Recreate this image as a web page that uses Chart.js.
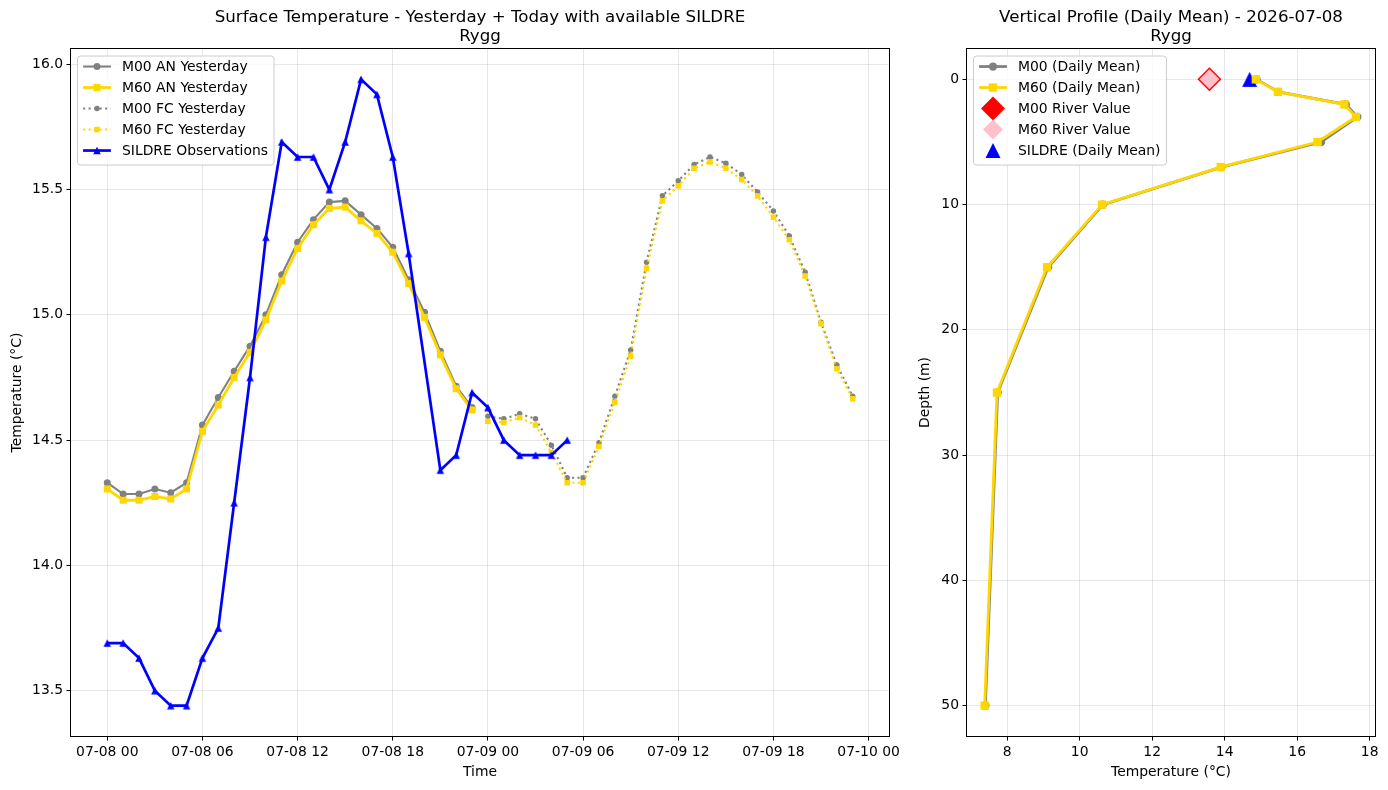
<!DOCTYPE html>
<html>
<head>
<meta charset="utf-8">
<script src="https://cdn.jsdelivr.net/npm/chart.js@4.4.0/dist/chart.umd.min.js"></script>
<style>
html,body{margin:0;padding:0;background:#fff;}
#wrap{position:relative;width:1388px;height:790px;overflow:hidden;}
#c1{position:absolute;left:0;top:0;}
#c2{position:absolute;left:905px;top:0;}
</style>
</head>
<body>
<div id="wrap">
<canvas id="c1" width="905" height="790"></canvas>
<canvas id="c2" width="483" height="790"></canvas>
</div>
<script>
// ---------------- DATA ----------------
const anHours = [0,1,2,3,4,5,6,7,8,9,10,11,12,13,14,15,16,17,18,19,20,21,22,23];
const m00An = [14.33,14.285,14.285,14.305,14.29,14.33,14.56,14.67,14.775,14.875,15.00,15.16,15.29,15.38,15.45,15.455,15.40,15.345,15.27,15.14,15.01,14.855,14.715,14.63];
const m60An = [14.305,14.26,14.26,14.275,14.265,14.305,14.535,14.64,14.75,14.85,14.98,15.135,15.265,15.36,15.425,15.43,15.375,15.325,15.25,15.125,14.99,14.84,14.705,14.62];
const fcHours = [24,25,26,27,28,29,30,31,32,33,34,35,36,37,38,39,40,41,42,43,44,45,46,47];
const m00Fc = [14.595,14.585,14.605,14.585,14.48,14.35,14.35,14.49,14.675,14.86,15.21,15.475,15.535,15.60,15.63,15.605,15.56,15.49,15.415,15.315,15.17,14.97,14.80,14.675];
const m60Fc = [14.575,14.57,14.59,14.56,14.45,14.33,14.33,14.475,14.65,14.835,15.185,15.455,15.515,15.585,15.61,15.585,15.54,15.475,15.39,15.30,15.155,14.965,14.785,14.665];
const obsHours = [0,1,2,3,4,5,6,7,8,9,10,11,12,13,14,15,16,17,18,19,21,22,23,24,25,26,27,28,29];
const sildreObs = [13.69,13.69,13.63,13.50,13.44,13.44,13.63,13.75,14.25,14.75,15.31,15.69,15.63,15.63,15.50,15.69,15.94,15.88,15.63,15.245,14.38,14.44,14.69,14.63,14.50,14.44,14.44,14.44,14.50];

const leftXTickValues = [0,6,12,18,24,30,36,42,48];
const leftXTickLabels = ["07-08 00","07-08 06","07-08 12","07-08 18","07-09 00","07-09 06","07-09 12","07-09 18","07-10 00"];
const leftYTickValues = [13.5,14.0,14.5,15.0,15.5,16.0];
const leftYTickLabels = ["13.5","14.0","14.5","15.0","15.5","16.0"];

const depths = [0,1,2,3,5,7,10,15,25,50];
const m00Profile = [14.88,15.48,17.34,17.66,16.66,13.91,10.64,9.13,7.74,7.40];
const m60Profile = [14.86,15.47,17.30,17.62,16.56,13.89,10.62,9.10,7.72,7.38];
const m00River = [13.58];
const m60River = [13.58];
const sildreMean = [14.69];
const surfaceDepth = [0];

const rightXTickValues = [8,10,12,14,16,18];
const rightXTickLabels = ["8","10","12","14","16","18"];
const rightYTickValues = [0,10,20,30,40,50];
const rightYTickLabels = ["0","10","20","30","40","50"];

// ---------------- HELPERS ----------------
const FONT = '"DejaVu Sans", "Liberation Sans", sans-serif';
Chart.defaults.font.family = FONT;
Chart.defaults.color = '#000';

function pts(xs, ys){ return xs.map((x,i)=>({x:x, y:ys[i]})); }

function makeTriangle(size, color){
  const s = Math.ceil(size) + 2;
  const c = document.createElement('canvas');
  c.width = s; c.height = s;
  const g = c.getContext('2d');
  const cx = s/2, cy = s/2, h = size/2;
  g.beginPath();
  g.moveTo(cx, cy-h); g.lineTo(cx+h, cy+h); g.lineTo(cx-h, cy+h); g.closePath();
  g.fillStyle = color; g.fill();
  return c;
}

function drawMarker(ctx, m, x, y){
  const h = m.size/2;
  ctx.save();
  ctx.fillStyle = m.color;
  ctx.beginPath();
  if (m.shape === 'circle') ctx.arc(x, y, h, 0, Math.PI*2);
  else if (m.shape === 'square') ctx.rect(x-h, y-h, m.size, m.size);
  else if (m.shape === 'triangle') { ctx.moveTo(x, y-h); ctx.lineTo(x+h, y+h); ctx.lineTo(x-h, y+h); ctx.closePath(); }
  else if (m.shape === 'diamond') { ctx.moveTo(x, y-h); ctx.lineTo(x+h, y); ctx.lineTo(x, y+h); ctx.lineTo(x-h, y); ctx.closePath(); }
  ctx.fill();
  ctx.restore();
}

const mplPlugin = {
  id: 'mpl',
  afterDraw(chart, args, opts){
    const ctx = chart.ctx, a = chart.chartArea;
    ctx.save();
    ctx.strokeStyle = '#000'; ctx.lineWidth = 1;
    ctx.strokeRect(Math.round(a.left)+0.5, Math.round(a.top)+0.5, Math.round(a.right-a.left)-1, Math.round(a.bottom-a.top)-1);
    ctx.restore();
    const items = opts.items;
    if (!items) return;
    ctx.save();
    ctx.font = '13.9px ' + FONT;
    let maxW = 0;
    items.forEach(it => { maxW = Math.max(maxW, ctx.measureText(it.label).width); });
    const bx = a.left + 7.5, by = a.top + 8, bw = 44.5 + maxW + 6, bh = 109, r = 3;
    ctx.beginPath();
    ctx.moveTo(bx+r, by); ctx.lineTo(bx+bw-r, by); ctx.arcTo(bx+bw, by, bx+bw, by+r, r);
    ctx.lineTo(bx+bw, by+bh-r); ctx.arcTo(bx+bw, by+bh, bx+bw-r, by+bh, r);
    ctx.lineTo(bx+r, by+bh); ctx.arcTo(bx, by+bh, bx, by+bh-r, r);
    ctx.lineTo(bx, by+r); ctx.arcTo(bx, by, bx+r, by, r); ctx.closePath();
    ctx.fillStyle = 'rgba(255,255,255,0.8)'; ctx.fill();
    ctx.strokeStyle = '#cccccc'; ctx.lineWidth = 1; ctx.stroke();
    items.forEach((it, i) => {
      const cy = by + 10.5 + i*21;
      if (it.line) {
        ctx.save();
        ctx.beginPath(); ctx.moveTo(bx+5.6, cy); ctx.lineTo(bx+33.4, cy);
        ctx.strokeStyle = it.color; ctx.lineWidth = it.lw; ctx.setLineDash(it.dash || []);
        ctx.stroke();
        ctx.restore();
      }
      drawMarker(ctx, it.marker, bx+19.5, cy);
      ctx.fillStyle = '#000'; ctx.textBaseline = 'middle'; ctx.textAlign = 'left';
      ctx.fillText(it.label, bx+44.5, cy+0.5);
    });
    ctx.restore();
  }
};

const GRID = {color:'rgba(176,176,176,0.3)', lineWidth:1, tickColor:'#000', tickLength:3.5, tickWidth:1};
const TICKFONT = {size:13.9};

function xAxis(min, max, vals, labels, title){
  return {
    type:'linear', min:min, max:max,
    afterBuildTicks: s => { s.ticks = vals.map(v => ({value:v})); },
    afterFit: s => { s.height = 53; s.paddingLeft = 0; s.paddingRight = 0; },
    ticks:{autoSkip:false, maxRotation:0, minRotation:0, padding:3.5, font:TICKFONT, color:'#000', callback:(v,i)=>labels[i]},
    grid:GRID, border:{display:false},
    title:{display:true, text:title, color:'#000', font:{size:13.9}, padding:{top:0, bottom:9.2}}
  };
}
function yAxis(min, max, vals, labels, title, width, tpad, reverse){
  return {
    type:'linear', min:min, max:max, reverse:!!reverse,
    afterBuildTicks: s => { s.ticks = vals.map(v => ({value:v})); },
    afterFit: s => { s.width = width; s.paddingTop = 0; s.paddingBottom = 0; },
    ticks:{autoSkip:false, padding:3.5, font:TICKFONT, color:'#000', callback:(v,i)=>labels[i]},
    grid:GRID, border:{display:false},
    title:{display:true, text:title, color:'#000', font:{size:13.9}, padding:{top:tpad, bottom:0}}
  };
}
function titleOpts(lines){
  return {display:true, text:lines, color:'#000', fullSize:false,
    font:{size:16.67, weight:'normal', lineHeight:1.15}, padding:{top:8.4, bottom:1.3}};
}

const GRAY = '#808080', GOLD = '#FFD700', BLUE = '#0000FF';
const triSmall = makeTriangle(7.5, BLUE);

// ---------------- LEFT CHART ----------------
new Chart(document.getElementById('c1'), {
  type:'line',
  data:{datasets:[
    {label:'M00 AN Yesterday', data:pts(anHours, m00An), borderColor:GRAY, backgroundColor:GRAY, borderWidth:2.1,
     pointStyle:'circle', pointRadius:3.5, pointBorderWidth:0, order:4},
    {label:'M60 AN Yesterday', data:pts(anHours, m60An), borderColor:GOLD, backgroundColor:GOLD, borderWidth:2.8,
     pointStyle:'rect', pointRadius:4.95, pointBorderWidth:0, order:3},
    {label:'M00 FC Yesterday', data:pts(fcHours, m00Fc), borderColor:GRAY, backgroundColor:GRAY, borderWidth:2.1, borderDash:[2.1,3.4],
     pointStyle:'circle', pointRadius:2.75, pointBorderWidth:0, order:2},
    {label:'M60 FC Yesterday', data:pts(fcHours, m60Fc), borderColor:GOLD, backgroundColor:GOLD, borderWidth:2.1, borderDash:[2.1,3.4],
     pointStyle:'rect', pointRadius:3.9, pointBorderWidth:0, order:1},
    {label:'SILDRE Observations', data:pts(obsHours, sildreObs), borderColor:BLUE, backgroundColor:BLUE, borderWidth:2.7,
     pointStyle:triSmall, pointRadius:4, pointBorderWidth:0, order:0}
  ]},
  options:{
    responsive:false, animation:false, events:[],
    layout:{padding:{left:0, right:15, top:0, bottom:0}},
    plugins:{
      legend:{display:false}, tooltip:{enabled:false},
      title:titleOpts(['Surface Temperature - Yesterday + Today with available SILDRE','Rygg']),
      mpl:{items:[
        {label:'M00 AN Yesterday', line:true, color:GRAY, lw:2.1, marker:{shape:'circle', size:7, color:GRAY}},
        {label:'M60 AN Yesterday', line:true, color:GOLD, lw:2.8, marker:{shape:'square', size:7, color:GOLD}},
        {label:'M00 FC Yesterday', line:true, color:GRAY, lw:2.1, dash:[2.1,3.4], marker:{shape:'circle', size:5.5, color:GRAY}},
        {label:'M60 FC Yesterday', line:true, color:GOLD, lw:2.1, dash:[2.1,3.4], marker:{shape:'square', size:5.5, color:GOLD}},
        {label:'SILDRE Observations', line:true, color:BLUE, lw:2.7, marker:{shape:'triangle', size:7.5, color:BLUE}}
      ]}
    },
    scales:{
      x:xAxis(-2.35, 49.35, leftXTickValues, leftXTickLabels, 'Time'),
      y:yAxis(13.315, 16.065, leftYTickValues, leftYTickLabels, 'Temperature (°C)', 70, 8.7, false)
    }
  },
  plugins:[mplPlugin]
});

// ---------------- RIGHT CHART ----------------
const triBig = makeTriangle(15, BLUE);
new Chart(document.getElementById('c2'), {
  type:'line',
  data:{datasets:[
    {label:'M00 (Daily Mean)', data:pts(m00Profile, depths), borderColor:GRAY, backgroundColor:GRAY, borderWidth:2.8,
     pointStyle:'circle', pointRadius:4.15, pointBorderWidth:0, order:1},
    {label:'M60 (Daily Mean)', data:pts(m60Profile, depths), borderColor:GOLD, backgroundColor:GOLD, borderWidth:2.8,
     pointStyle:'rect', pointRadius:5.9, pointBorderWidth:0, order:0},
    {label:'M00 River Value', data:pts(m00River, surfaceDepth), showLine:false, borderColor:'#FF0000', backgroundColor:'#FF0000',
     pointStyle:'rectRot', pointRadius:12, pointBorderWidth:0, order:4},
    {label:'M60 River Value', data:pts(m60River, surfaceDepth), showLine:false, borderColor:'#FFC0CB', backgroundColor:'#FFC0CB',
     pointStyle:'rectRot', pointRadius:10, pointBorderWidth:0, order:3},
    {label:'SILDRE (Daily Mean)', data:pts(sildreMean, surfaceDepth), showLine:false, borderColor:BLUE, backgroundColor:BLUE,
     pointStyle:triBig, pointRadius:8, pointBorderWidth:0, order:2}
  ]},
  options:{
    responsive:false, animation:false, events:[],
    layout:{padding:{left:0, right:12, top:0, bottom:0}},
    plugins:{
      legend:{display:false}, tooltip:{enabled:false},
      title:titleOpts(['Vertical Profile (Daily Mean) - 2026-07-08','Rygg']),
      mpl:{items:[
        {label:'M00 (Daily Mean)', line:true, color:GRAY, lw:2.8, marker:{shape:'circle', size:8.3, color:GRAY}},
        {label:'M60 (Daily Mean)', line:true, color:GOLD, lw:2.8, marker:{shape:'square', size:8.3, color:GOLD}},
        {label:'M00 River Value', line:false, marker:{shape:'diamond', size:24, color:'#FF0000'}},
        {label:'M60 River Value', line:false, marker:{shape:'diamond', size:20, color:'#FFC0CB'}},
        {label:'SILDRE (Daily Mean)', line:false, marker:{shape:'triangle', size:15, color:BLUE}}
      ]}
    },
    scales:{
      x:xAxis(6.866, 18.174, rightXTickValues, rightXTickLabels, 'Temperature (°C)'),
      y:yAxis(-2.5, 52.5, rightYTickValues, rightYTickLabels, 'Depth (m)', 61, 11.7, true)
    }
  },
  plugins:[mplPlugin]
});
</script>
</body>
</html>
